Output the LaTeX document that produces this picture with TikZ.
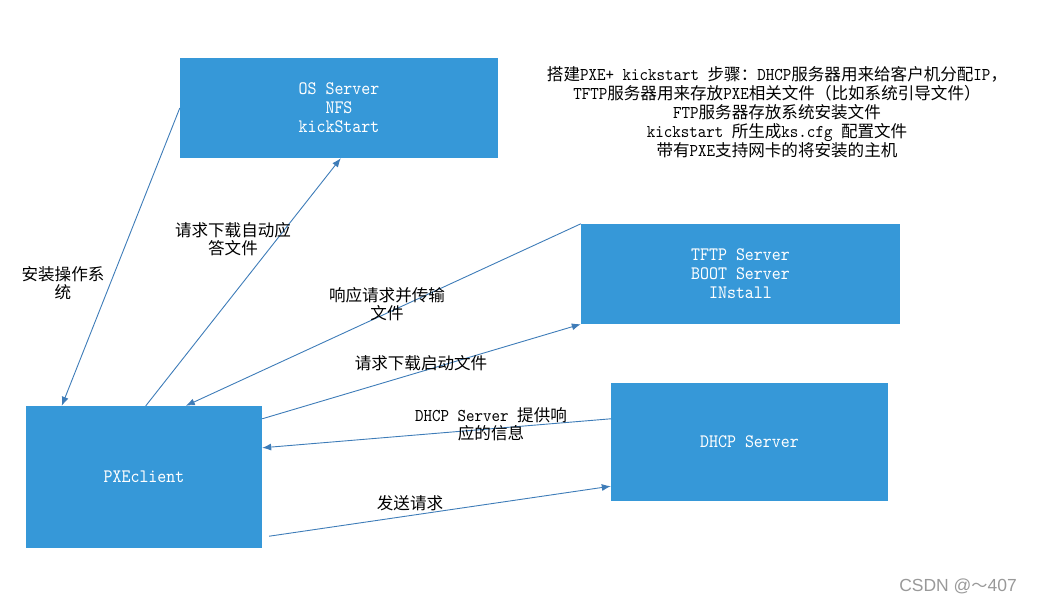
\documentclass[tikz,border=0pt]{standalone}
\usepackage{fontspec}
\setmainfont[FakeStretch=0.9]{lmmono10-regular.otf}
\newfontfamily\cjk[Scale=0.92]{Noto Sans CJK SC}
\newfontfamily\wmfont{Liberation Sans}
\usetikzlibrary{arrows.meta}
\definecolor{boxblue}{RGB}{54,152,216}
\definecolor{linkblue}{RGB}{62,124,184}
\begin{document}
\begin{tikzpicture}[x=1pt,y=-1pt,
 box/.style={fill=boxblue, draw=none, text=white, align=center, font=\fontsize{19}{19}\selectfont, inner sep=0pt},
 lbl/.style={align=center, font=\fontsize{18}{18.5}\selectfont, inner sep=0pt},
 link/.style={draw=linkblue, line width=0.9pt, -{Latex[length=9pt,width=7pt]}}]
\useasboundingbox (0,0) rectangle (1037,604);
% boxes
\node[box, minimum width=318pt, minimum height=100pt] (os) at (339,108) {OS Server\\NFS\\kickStart};
\node[box, minimum width=319pt, minimum height=100pt] (tftp) at (740.5,274) {TFTP Server\\BOOT Server\\INstall};
\node[box, minimum width=277pt, minimum height=118pt] (dhcp) at (749.5,442) {DHCP Server};
\node[box, minimum width=236pt, minimum height=142pt] (pxe) at (144,477) {PXEclient};
% connectors
\coordinate (s6) at ([xshift=7pt,yshift=12pt]pxe.south east);
\draw[link] (os.west) -- ([xshift=36pt]pxe.north west);
\draw[link] ([xshift=120pt]pxe.north west) -- ([xshift=161pt]os.south west);
\draw[link] (tftp.north west) -- ([xshift=160pt]pxe.north west);
\draw[link] ([yshift=-13pt]pxe.north east) -- (tftp.south west);
\draw[link] ([yshift=-36pt]dhcp.north west) -- ([yshift=-42pt]pxe.north east);
\draw[link] (s6) -- ([yshift=15pt]dhcp.south west);
% labels
\node[lbl] (l1) at (63,283) {{\cjk 安装操作系}\\{\cjk 统}};
\node[lbl] (l2) at (233,239) {{\cjk 请求下载自动应}\\{\cjk 答文件}};
\node[lbl] (l3) at (387,304) {{\cjk 响应请求并传输}\\{\cjk 文件}};
\node[lbl] (l4) at (421,363) {{\cjk 请求下载启动文件}};
\node[lbl, font=\fontsize{18}{17.5}\selectfont] (l5) at (491,424) {DHCP Server {\cjk 提供响}\\{\cjk 应的信息}};
\node[lbl] (l6) at (410,503) {{\cjk 发送请求}};
% note
\node[lbl, font=\fontsize{18}{19}\selectfont] (note) at (777,112) {{\cjk 搭建}PXE+ kickstart {\cjk 步骤：}DHCP{\cjk 服务器用来给客户机分配}IP{\cjk ，}\\
TFTP{\cjk 服务器用来存放}PXE{\cjk 相关文件（比如系统引导文件）}\\
FTP{\cjk 服务器存放系统安装文件}\\
kickstart {\cjk 所生成}ks.cfg {\cjk 配置文件}\\
{\cjk 带有}PXE{\cjk 支持网卡的将安装的主机}};
% watermark
\node[text=black!40, font=\wmfont\fontsize{17.5}{19}\selectfont, inner sep=0pt] (wm) at (958,586) {CSDN @{\cjk ～}407};
\end{tikzpicture}
\end{document}
